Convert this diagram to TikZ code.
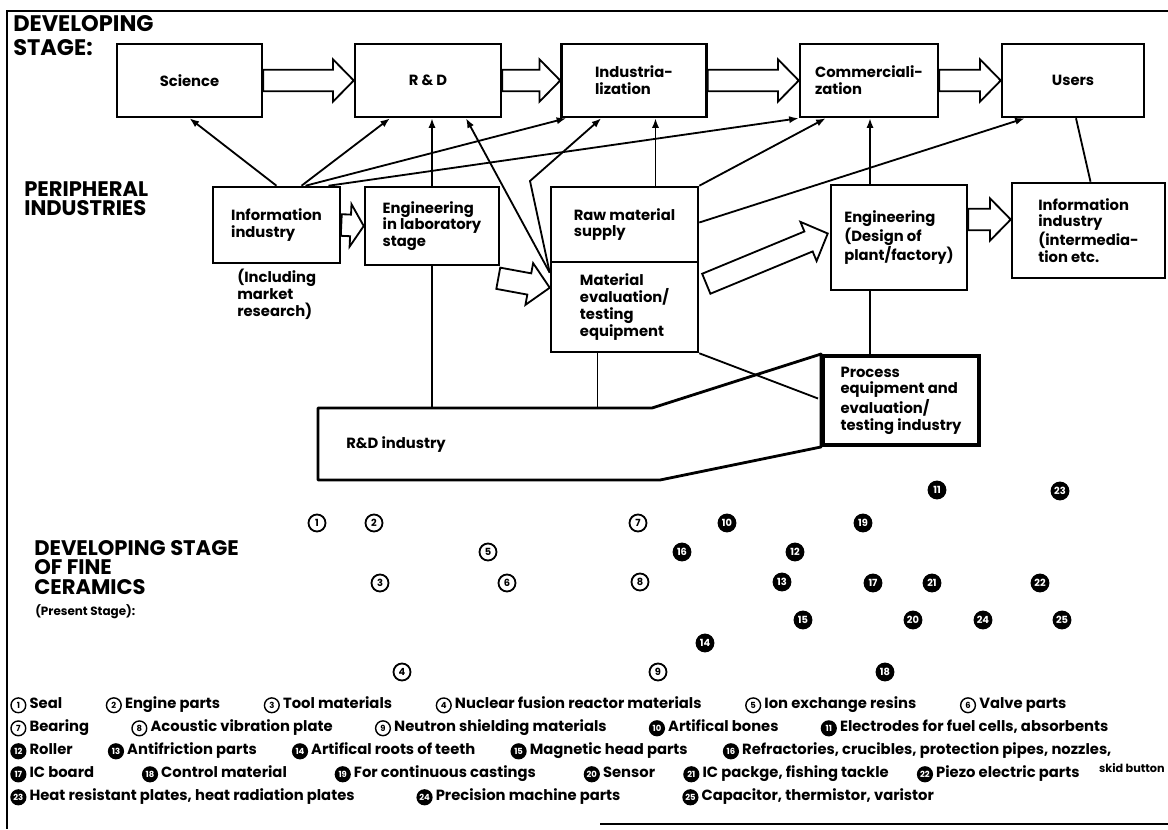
\documentclass[tikz,border=0pt]{standalone}
\usepackage{fontspec}
\setmainfont{Poppins}
\usetikzlibrary{positioning,arrows.meta,calc}

\newcommand\pxu{0.025cm}
% hollow arrow: [head length]{name}{tail}{tip}
\newcommand\hollow[4][0.52cm]{%
  \coordinate (#2-n) at ($(#4)!#1!(#3)$);
  \draw[hollowline] ($(#3)!0.27cm!90:(#4)$) -- ($(#2-n)!0.27cm!90:(#4)$) -- ($(#2-n)!0.53cm!90:(#4)$)
    -- (#4) -- ($(#2-n)!0.53cm!-90:(#4)$) -- ($(#2-n)!0.27cm!-90:(#4)$) -- ($(#3)!0.27cm!-90:(#4)$) -- cycle;}
\newcommand\lmo[1]{\tikz[baseline=(lm.base)]\node[lmark] (lm) {#1};}
\newcommand\lmf[1]{\tikz[baseline=(lm.base)]\node[lmark, fill=black, text=white] (lm) {#1};}

\begin{document}
\begin{tikzpicture}[x=0.025cm, y=-0.025cm,
  box/.style={draw, line width=1.8pt, inner sep=0pt, align=left,
    font=\fontsize{10.5}{12}\selectfont\bfseries},
  heading/.style={font=\fontsize{15}{14}\selectfont\bfseries, align=left, inner sep=0pt, anchor=north west},
  link/.style={line width=1.3pt},
  uparr/.style={link, -{Latex[length=2.4mm,width=1.8mm]}},
  hollowline/.style={draw, line width=1.3pt, fill=white},
  cno/.style={circle, draw, line width=1.3pt, minimum size=17*\pxu, inner sep=0pt,
    font=\fontsize{7}{7}\selectfont\bfseries},
  cnf/.style={cno, fill=black, text=white},
  lmark/.style={circle, draw, line width=1pt, inner sep=0.4pt, minimum size=10.5pt,
    font=\fontsize{6}{6}\selectfont\bfseries},
  leg/.style={font=\fontsize{10.5}{11}\selectfont\bfseries, inner sep=0pt, anchor=west},
  frameline/.style={line width=1.4pt}]
\useasboundingbox (0,0) rectangle (1168,829);
\draw[frameline] (1168,11) -- (7,11) -- (7,829);
\draw[frameline] (600,824) -- (1168,824);

% developing stage
\node[heading, font=\fontsize{16}{17}\selectfont\bfseries] (dev) at (13,15) {DEVELOPING\\STAGE:};
\node[box, minimum width=145*\pxu, minimum height=73*\pxu] (sci) at (189.5,80.5) {Science};
\node[box, minimum width=146*\pxu, minimum height=73*\pxu] (rd) at (428,80.5) {R \& D};
\node[box, minimum width=145*\pxu, minimum height=73*\pxu] (ind) at (634,80.5) {Industria-\\lization};
\node[box, minimum width=138*\pxu, minimum height=73*\pxu] (com) at (869,80.5) {Commerciali-\\zation};
\node[box, minimum width=142*\pxu, minimum height=73*\pxu] (usr) at (1073,80.5) {Users};

% peripheral industries
\node[heading] (peri) at (24,181) {PERIPHERAL\\INDUSTRIES};
\node[box, minimum width=127*\pxu, minimum height=76*\pxu] (info) at (276.5,225) {Information\\industry};
\node[box, draw=none, anchor=north west] (incl) at (236,268) {(Including\\market\\research)};
\node[box, minimum width=134*\pxu, minimum height=78*\pxu] (englab) at (432,226) {Engineering\\in laboratory\\stage};
\node[box, minimum width=147*\pxu, minimum height=75*\pxu] (raw) at (624.5,224.5) {Raw material\\supply};
\node[box, minimum width=147*\pxu, minimum height=90*\pxu] (mat) at (624.5,307) {Material\\evaluation/\\testing\\equipment};
\node[box, minimum width=136*\pxu, minimum height=105*\pxu] (engd) at (899,237.5) {Engineering\\(Design of\\plant/factory)};
\node[box, minimum width=153*\pxu, minimum height=95*\pxu] (infoint) at (1088.5,230.5) {Information\\industry\\(intermedia-\\tion etc.};
\node[box, line width=2.8pt, minimum width=156*\pxu, minimum height=89*\pxu] (prc) at (901,400.5) {Process\\equipment and\\evaluation/\\testing industry};

% R&D industry
\coordinate (rdi-nw) at (318,408);
\coordinate (rdi-n) at (652,408);
\coordinate (rdi-s) at (660,480);
\coordinate (rdi-sw) at (318,480);
\draw[line width=2pt, line join=round] (rdi-nw) -- (rdi-n) -- (prc.north west) -- (prc.south west)
  -- (rdi-s) -- (rdi-sw) -- cycle;
\node[box, draw=none, anchor=west] (rdi) at (345,445) {R\&D industry};

% links up to the developing stage
\draw[uparr] (info.north) -- (sci.south);
\draw[uparr] ($(info.north)+(25,0)$) -- ($(rd.south)+(-38,0)$);
\draw[uparr] ($(info.north)+(29,0)$) -- ($(ind.south west)+(6,0)$);
\draw[uparr] ($(info.north)+(52,0)$) -- (com.south west);
\draw[uparr] (englab.north) -- (englab.north |- rd.south);
\draw[uparr] ($(mat.north west)+(0,12)$) -- ($(rd.south)+(38,0)$);
\coordinate (bend) at (530,181);
\draw[uparr] ($(mat.north west)+(0,12)$) -- (bend) -- ($(ind.south west)+(41,0)$);
\draw[uparr] ($(raw.north)+(31,0)$) coordinate (r1) -- (r1 |- ind.south);
\draw[uparr] (raw.north east) -- ($(com.south west)+(27,0)$);
\draw[uparr] ($(engd.north)+(-29,0)$) coordinate (e1) -- (e1 |- com.south);
\draw[uparr] ($(raw.east)+(0,-2)$) -- ($(usr.south west)+(24,0)$);
\draw[link] ($(infoint.north)+(2,0)$) -- ($(usr.south)+(3,0)$);

% links down to the industries
\draw[link] (englab.south) -- (englab.south |- rdi-nw);
\draw[link] ($(mat.south)+(-27,0)$) coordinate (m1) -- (m1 |- rdi-nw);
\draw[link] (mat.south east) -- ($(prc.west)+(-3,-2)$);
\draw[link] ($(engd.south)+(-29,0)$) coordinate (e2) -- (e2 |- prc.north);

% hollow arrows
\hollow{a1}{sci.east}{rd.west}
\hollow{a2}{rd.east}{ind.west}
\hollow{a3}{ind.east}{com.west}
\hollow{a4}{com.east}{usr.west}
\hollow[0.33cm]{a5}{info.east}{englab.west}
\coordinate (t6) at ($(englab.south east)+(-2,12)$);
\coordinate (h6) at ($(mat.north west)+(0,27)$);
\hollow{a6}{t6}{h6}
\coordinate (t7) at ($(mat.north east)+(7,23)$);
\coordinate (h7) at ($(engd.west)+(-2,-4)$);
\hollow{a7}{t7}{h7}
\coordinate (t8) at ($(engd.east)+(0,-18)$);
\coordinate (h8) at ($(infoint.west)+(0,-11)$);
\hollow{a8}{t8}{h8}

% fine ceramics
\node[heading] (fine) at (34,540) {DEVELOPING STAGE\\OF FINE\\CERAMICS};
\node[box, draw=none, anchor=north west, font=\fontsize{8.5}{9}\selectfont\bfseries] (pres) at (34,603) {(Present Stage):};
\foreach \n/\x/\y in {1/317/523, 2/374/523, 3/380/583, 4/402/672, 5/488/552,
    6/507/583, 7/638/523, 8/640/582, 9/658/672}
  \node[cno] (p\n) at (\x,\y) {\n};
\foreach \n/\x/\y in {10/727/523, 11/937/490, 12/795/552, 13/782/582, 14/705/643,
    15/803/620, 16/682/552, 17/873/583, 18/885/672, 19/863/523, 20/913/620,
    21/932/583, 22/1040/583, 23/1060/491, 24/983/620, 25/1062/620}
  \node[cnf] (p\n) at (\x,\y) {\n};

% legend
\node[leg] (leg1) at (10,705) {\lmo{1} Seal\hspace{31pt}\lmo{2} Engine parts\hspace{31pt}\lmo{3} Tool materials\hspace{31pt}%
  \lmo{4} Nuclear fusion reactor materials\hspace{31pt}\lmo{5} Ion exchange resins\hspace{31pt}\lmo{6} Valve parts};
\node[leg] (leg2) at (10,728) {\lmo{7} Bearing\hspace{30pt}\lmo{8} Acoustic vibration plate\hspace{30pt}%
  \lmo{9} Neutron shielding materials\hspace{30pt}\lmf{10} Artifical bones\hspace{30pt}\lmf{11} Electrodes for fuel cells, absorbents};
\node[leg] (leg3) at (10,751) {\lmf{12} Roller\hspace{25pt}\lmf{13} Antifriction parts\hspace{25pt}\lmf{14} Artifical roots of teeth\hspace{25pt}%
  \lmf{15} Magnetic head parts\hspace{25pt}\lmf{16} Refractories, crucibles, protection pipes, nozzles,};
\node[leg] (leg4) at (10,774) {\lmf{17} IC board\hspace{34pt}\lmf{18} Control material\hspace{34pt}\lmf{19} For continuous castings\hspace{34pt}%
  \lmf{20} Sensor\hspace{20pt}\lmf{21} IC packge, fishing tackle\hspace{20pt}\lmf{22} Piezo electric parts};
\node[leg, anchor=east, font=\fontsize{8}{8}\selectfont\bfseries] (skid) at (1165,768) {skid button};
\node[leg] (leg5) at (10,797) {\lmf{23} Heat resistant plates, heat radiation plates\hspace{44pt}%
  \lmf{24} Precision machine parts\hspace{44pt}\lmf{25} Capacitor, thermistor, varistor};
\end{tikzpicture}
\end{document}
